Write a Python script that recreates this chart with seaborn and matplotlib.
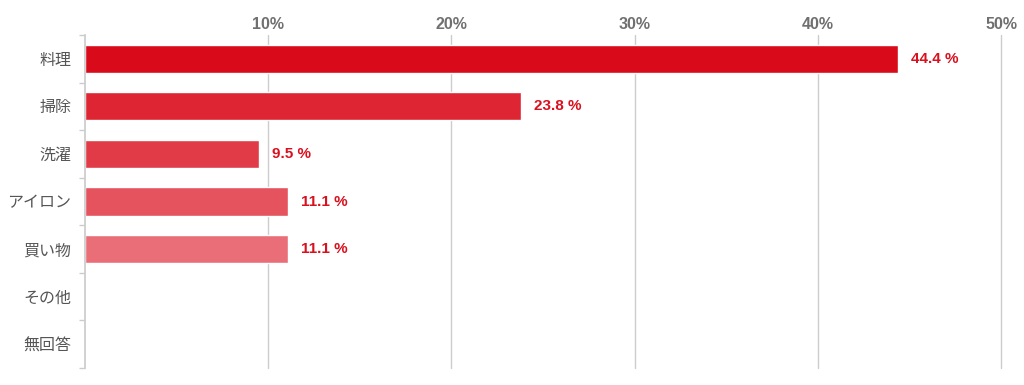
import matplotlib.pyplot as plt
import seaborn as sns
import pandas as pd

categories = ['料理', '掃除', '洗濯', 'アイロン', '買い物', 'その他', '無回答']
values = [44.4, 23.8, 9.5, 11.1, 11.1, 0, 0]
bar_colors = ['#D90B1A', '#DE2533', '#E23B48', '#E5535F', '#EA6E78', '#EE8890', '#F2A2A8']
xticks = [10, 20, 30, 40, 50]

sns.set_theme(style='white')
plt.rcParams['font.family'] = ['Liberation Sans', 'Noto Sans CJK JP', 'DejaVu Sans']

df = pd.DataFrame({'cat': categories, 'val': values})

fig = plt.figure(figsize=(10.24, 3.85), dpi=100)
ax = fig.add_axes([85 / 1024, 1 - 368 / 385, (1001 - 85) / 1024, (368 - 35) / 385])

sns.barplot(data=df, y='cat', x='val', hue='cat', palette=bar_colors,
            legend=False, width=0.59, ax=ax, saturation=1)

ax.set_xlim(0, 50)
ax.set_ylim(6.5, -0.5)
ax.set_xticks(xticks)
ax.set_xticklabels([f'{t}%' for t in xticks], fontweight='bold', color='#707070', fontsize=11.5)
ax.xaxis.tick_top()
ax.tick_params(axis='x', length=0, pad=2)
ax.xaxis.grid(True, color='#cccccc', linewidth=1)
for gl in ax.get_xgridlines():
    gl.set_clip_on(False)
ax.set_axisbelow(True)

# category labels, ticks on band edges
ax.set_yticks(range(len(categories)))
ax.set_yticklabels(categories, color='#555555', fontsize=11.5)
ax.tick_params(axis='y', length=0, pad=10)
ax.set_yticks([i - 0.5 for i in range(len(categories) + 1)], minor=True)
ax.tick_params(axis='y', which='minor', length=4, color='#cccccc', width=1, left=True)

ax.set_xlabel('')
ax.set_ylabel('')
for s in ['top', 'right', 'bottom']:
    ax.spines[s].set_visible(False)
ax.spines['left'].set_color('#cccccc')

for i, v in enumerate(values):
    if v > 0:
        ax.text(v + 0.7, i, f'{v} %', va='center', ha='left', color='#D9101E',
                fontweight='bold', fontsize=11)

fig.savefig('out.png', dpi=100)
